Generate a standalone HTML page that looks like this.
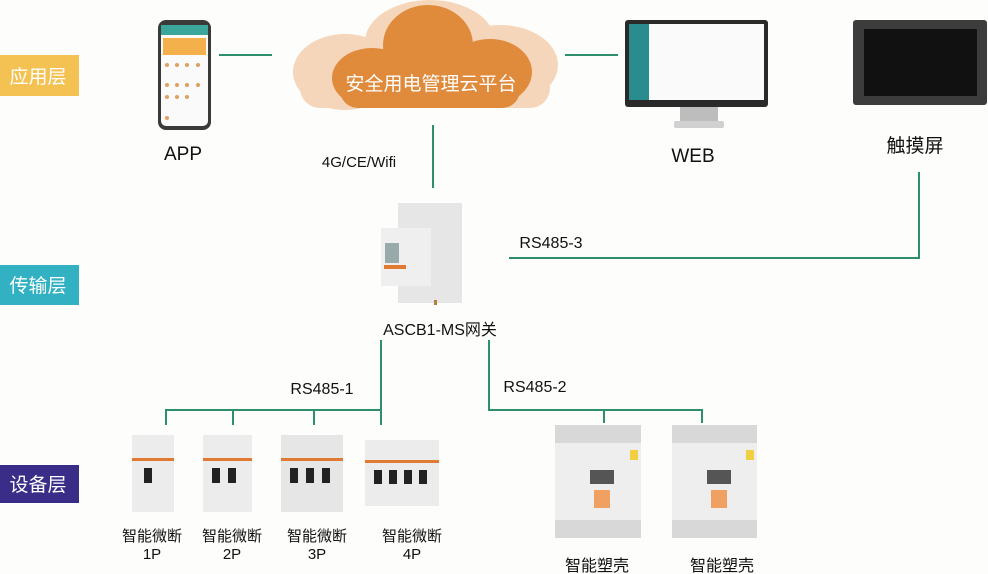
<!DOCTYPE html>
<html><head><meta charset="utf-8"><style>
html,body{margin:0;padding:0;background:#fdfdfb;}
svg{display:block;}
text{font-family:"Liberation Sans","Noto Sans CJK SC",sans-serif;}
</style></head><body>
<svg width="988" height="574" viewBox="0 0 988 574" xmlns="http://www.w3.org/2000/svg">
<rect width="988" height="574" fill="#fdfdfb"/>
<!-- layer labels -->
<rect x="0" y="55" width="79" height="41" fill="#f3c252"/>
<text x="38" y="83" font-size="19" fill="#fff" text-anchor="middle">应用层</text>
<rect x="0" y="265" width="79" height="40" fill="#31b1c1"/>
<text x="38" y="292" font-size="19" fill="#fff" text-anchor="middle">传输层</text>
<rect x="0" y="465" width="79" height="38" fill="#3a2d88"/>
<text x="38" y="491" font-size="19" fill="#fff" text-anchor="middle">设备层</text>

<!-- lines -->
<g stroke="#2e8f6f" stroke-width="2" fill="none">
<line x1="219" y1="55" x2="272" y2="55"/>
<line x1="565" y1="55" x2="618" y2="55"/>
<line x1="433" y1="125" x2="433" y2="188"/>
<polyline points="509,258 919,258 919,172"/>
<polyline points="381,340 381,410 166,410 166,425"/>
<line x1="233" y1="410" x2="233" y2="425"/>
<line x1="314" y1="410" x2="314" y2="425"/>
<line x1="381" y1="410" x2="381" y2="425"/>
<polyline points="489,340 489,410 702,410 702,423"/>
<line x1="604" y1="410" x2="604" y2="423"/>
</g>

<!-- phone -->
<rect x="158" y="20" width="53" height="110" rx="8" fill="#3a3a3a"/>
<rect x="161" y="25" width="47" height="101" rx="5" fill="#fafafa"/>
<rect x="161" y="25" width="47" height="10" fill="#3aa79a"/>
<rect x="163" y="38" width="43" height="17" fill="#f4b04a"/>
<g fill="#e0a060"><circle cx="167" cy="65" r="2"/><circle cx="177" cy="65" r="2"/><circle cx="187" cy="65" r="2"/><circle cx="198" cy="65" r="2"/>
<circle cx="167" cy="85" r="2"/><circle cx="177" cy="85" r="2"/><circle cx="187" cy="85" r="2"/><circle cx="198" cy="85" r="2"/>
<circle cx="167" cy="97" r="2"/><circle cx="177" cy="97" r="2"/><circle cx="187" cy="97" r="2"/><circle cx="167" cy="118" r="2"/></g>
<text x="183" y="160" font-size="19" fill="#111" text-anchor="middle">APP</text>

<!-- cloud -->
<g fill="#f5d6bb">
<ellipse cx="345" cy="72" rx="52" ry="38"/>
<ellipse cx="500" cy="65" rx="58" ry="40"/>
<ellipse cx="430" cy="42" rx="65" ry="42"/>
<rect x="300" y="60" width="250" height="48" rx="20"/>
</g>
<g fill="#e08b3c">
<ellipse cx="372" cy="78" rx="40" ry="30"/>
<ellipse cx="490" cy="72" rx="42" ry="33"/>
<ellipse cx="428" cy="45" rx="45" ry="40"/>
<rect x="340" y="60" width="180" height="48" rx="18"/>
</g>
<text x="431" y="90" font-size="19" fill="#fff" text-anchor="middle">安全用电管理云平台</text>
<text x="359" y="167" font-size="15" fill="#111" text-anchor="middle">4G/CE/Wifi</text>

<!-- monitor -->
<rect x="625" y="20" width="143" height="87" rx="3" fill="#2a2a2a"/>
<rect x="629" y="24" width="135" height="76" fill="#fafafa"/>
<rect x="629" y="24" width="20" height="76" fill="#2a8c8c"/>
<rect x="680" y="107" width="38" height="15" fill="#bdbdbd"/>
<rect x="674" y="121" width="50" height="7" rx="2" fill="#d0d0d0"/>
<text x="693" y="162" font-size="19" fill="#111" text-anchor="middle">WEB</text>

<!-- touch screen -->
<rect x="853" y="20" width="134" height="85" rx="3" fill="#3c3c3c"/>
<rect x="864" y="29" width="113" height="67" fill="#111"/>
<text x="915" y="152" font-size="19" fill="#111" text-anchor="middle">触摸屏</text>

<!-- gateway -->
<rect x="398" y="203" width="64" height="100" fill="#e6e6e6"/>
<rect x="381" y="228" width="50" height="58" fill="#efefef"/>
<rect x="385" y="243" width="14" height="20" fill="#9aa"/>
<rect x="384" y="265" width="22" height="4" fill="#e07a30"/>
<rect x="434" y="300" width="3" height="5" fill="#b08040"/>
<text x="440" y="335" font-size="16" fill="#111" text-anchor="middle">ASCB1-MS网关</text>
<text x="551" y="248" font-size="16" fill="#111" text-anchor="middle">RS485-3</text>
<text x="322" y="394" font-size="16" fill="#111" text-anchor="middle">RS485-1</text>
<text x="535" y="392" font-size="16" fill="#111" text-anchor="middle">RS485-2</text>

<!-- micro breakers -->
<g>
<rect x="132" y="435" width="42" height="77" fill="#ececec"/><rect x="132" y="458" width="42" height="3" fill="#e07a30"/><rect x="144" y="468" width="8" height="15" fill="#222"/>
<rect x="203" y="435" width="49" height="77" fill="#ececec"/><rect x="203" y="458" width="49" height="3" fill="#e07a30"/><rect x="212" y="468" width="8" height="15" fill="#222"/><rect x="228" y="468" width="8" height="15" fill="#222"/>
<rect x="281" y="435" width="62" height="77" fill="#e6e6e6"/><rect x="281" y="458" width="62" height="3" fill="#e07a30"/><rect x="290" y="468" width="8" height="15" fill="#222"/><rect x="306" y="468" width="8" height="15" fill="#222"/><rect x="322" y="468" width="8" height="15" fill="#222"/>
<rect x="365" y="440" width="74" height="66" fill="#ececec"/><rect x="365" y="460" width="74" height="3" fill="#e07a30"/><rect x="374" y="470" width="8" height="14" fill="#222"/><rect x="389" y="470" width="8" height="14" fill="#222"/><rect x="404" y="470" width="8" height="14" fill="#222"/><rect x="419" y="470" width="8" height="14" fill="#222"/>
</g>
<g font-size="15" fill="#111" text-anchor="middle">
<text x="152" y="541">智能微断</text><text x="152" y="559">1P</text>
<text x="232" y="541">智能微断</text><text x="232" y="559">2P</text>
<text x="317" y="541">智能微断</text><text x="317" y="559">3P</text>
<text x="412" y="541">智能微断</text><text x="412" y="559">4P</text>
</g>

<!-- MCCBs -->
<g>
<rect x="555" y="425" width="86" height="113" fill="#eeeeee"/><rect x="555" y="425" width="86" height="18" fill="#d8d8d8"/><rect x="555" y="520" width="86" height="18" fill="#d8d8d8"/>
<rect x="590" y="470" width="24" height="14" fill="#555"/><rect x="594" y="490" width="16" height="18" fill="#f0a060"/><rect x="630" y="450" width="8" height="10" fill="#f0d040"/>
<rect x="672" y="425" width="85" height="113" fill="#eeeeee"/><rect x="672" y="425" width="85" height="18" fill="#d8d8d8"/><rect x="672" y="520" width="85" height="18" fill="#d8d8d8"/>
<rect x="707" y="470" width="24" height="14" fill="#555"/><rect x="711" y="490" width="16" height="18" fill="#f0a060"/><rect x="746" y="450" width="8" height="10" fill="#f0d040"/>
</g>
<g font-size="16" fill="#111" text-anchor="middle">
<text x="597" y="571">智能塑壳</text><text x="722" y="571">智能塑壳</text>
</g>
</svg>
</body></html>
